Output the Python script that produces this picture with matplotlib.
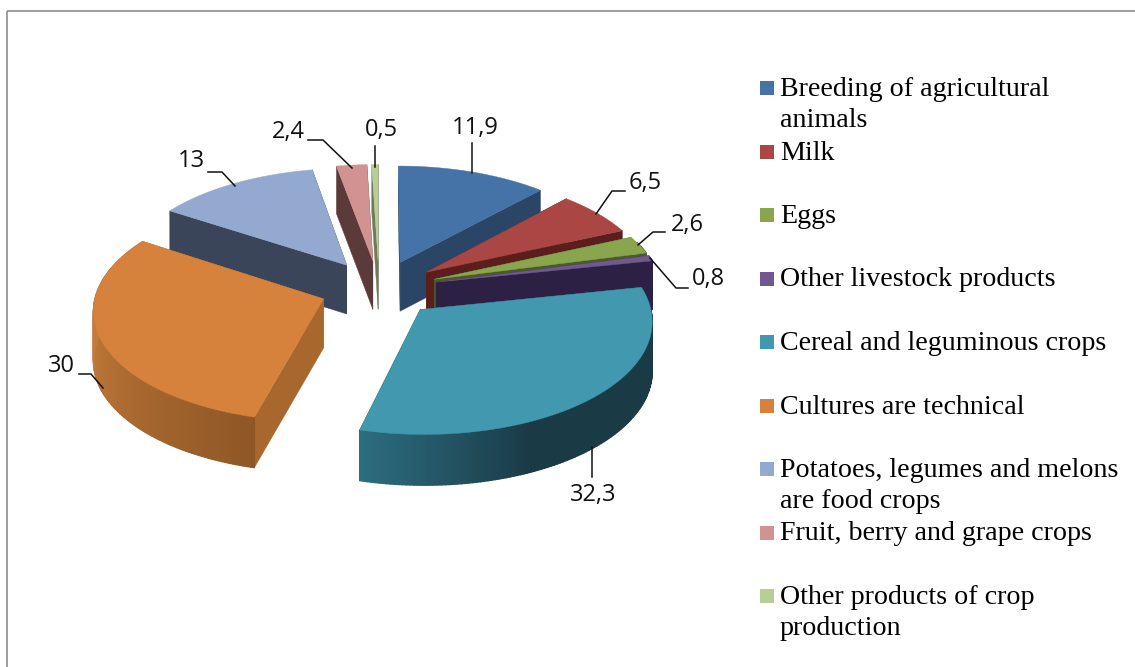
import numpy as np
import matplotlib
matplotlib.use("Agg")
import matplotlib.pyplot as plt
from matplotlib.patches import Polygon, Rectangle
from matplotlib.colors import to_rgb

labels = ["Breeding of agricultural\nanimals", "Milk", "Eggs", "Other livestock products",
          "Cereal and leguminous crops", "Cultures are technical",
          "Potatoes, legumes and melons\nare food crops", "Fruit, berry and grape crops",
          "Other products of crop\nproduction"]
values = [11.9, 6.5, 2.6, 0.8, 32.3, 30, 13, 2.4, 0.5]
value_labels = ["11,9", "6,5", "2,6", "0,8", "32,3", "30", "13", "2,4", "0,5"]
colors = ["#4572A7", "#AA4643", "#89A54E", "#71588F", "#4198AF", "#D6813C", "#93A9CF", "#D19392", "#B9CD96"]
wall_inner = ["#2A4565", "#5A1F1D", "#4A5A28", "#2C2145", "#1F4452", "#A8672C", "#3A455A", "#5C3A3A", "#6E7A58"]
wall_dark = ["#2A4565", "#5A1F1D", "#4A5A28", "#2C2145", "#1A3A46", "#A8672C", "#3A455A", "#5C3A3A", "#6E7A58"]

CX, CY, RX, RY, K, EXPLODE, DEPTH = 379, 288.5, 226.7, 109.6, 0.09, 0.26, 49

def project(x, y, z=0.0):
    s = 1 / (1 + K * y)
    return CX + RX * x * s, CY - RY * y * s + z * DEPTH * (1 + 0.3 * (s - 1))

fig = plt.figure(figsize=(11.35, 6.67), dpi=100)
ax = fig.add_axes([0, 0, 1, 1])
ax.set_xlim(0, 1135); ax.set_ylim(667, 0); ax.axis("off")
ax.add_patch(Rectangle((7, 10.5), 1140, 700, fill=False, ec="#8c8c8c", lw=1.2))

total = sum(values)
edges = np.concatenate([[0], np.cumsum(values)]) / total * 2 * np.pi
mids = (edges[:-1] + edges[1:]) / 2

def mix(c1, c2, t):
    a, b = np.array(to_rgb(c1)), np.array(to_rgb(c2))
    return tuple(a + (b - a) * float(np.clip(t, 0, 1)))

def wall_colour(i, m):
    deg = np.degrees(m)
    if i == 4:   # cereal: dark at the right, teal at the far left end
        return mix("#1A3A46", "#2C6E80", (deg - 155) / 40)
    if i == 5:   # technical crops: dark next to the front edge, lighter to the left
        return mix("#8F5726", "#C27B3A", (deg - 195) / 70)
    return wall_dark[i]

order = np.argsort(-np.cos(mids))
for i in order:
    a = np.linspace(edges[i], edges[i + 1], max(3, int(values[i] * 4) + 3))
    ox, oy = EXPLODE * np.sin(mids[i]), EXPLODE * np.cos(mids[i])
    z = 3 + (1 - np.cos(mids[i]))
    for ang in (edges[i], edges[i + 1]):
        p0 = project(ox, oy)
        p1 = project(ox + np.sin(ang), oy + np.cos(ang))
        p2 = project(ox + np.sin(ang), oy + np.cos(ang), 1)
        p3 = project(ox, oy, 1)
        ax.add_patch(Polygon([p0, p1, p2, p3], fc=wall_inner[i], ec=wall_inner[i], lw=0.3, zorder=z))
    for a0, a1 in zip(a[:-1], a[1:]):
        m = (a0 + a1) / 2
        if np.cos(m) > 0.35 and i != 5:
            continue
        c = wall_colour(i, m)
        q = [project(ox + np.sin(a0), oy + np.cos(a0)), project(ox + np.sin(a1), oy + np.cos(a1)),
             project(ox + np.sin(a1), oy + np.cos(a1), 1), project(ox + np.sin(a0), oy + np.cos(a0), 1)]
        ax.add_patch(Polygon(q, fc=c, ec=c, lw=1.0, zorder=z + 0.1))
    top = [project(ox, oy)] + [project(ox + np.sin(t), oy + np.cos(t)) for t in a]
    ax.add_patch(Polygon(top, fc=colors[i], ec=colors[i], lw=0.3, zorder=z + 0.2))

SANS = "Open Sans"
SERIF = "Liberation Serif"
label_pos = [(475, 128), (645, 183), (687, 225), (708, 279), (593, 495), (61, 366), (191, 161), (288, 132), (381, 130)]
leaders = [[(472, 143), (472, 173)], [(625, 191), (612, 191), (596, 214)], [(665, 232), (653, 232), (638, 245)],
           [(688, 288), (676, 288), (650, 258)], [(592, 477), (592, 447)], [(79, 374), (91, 374), (103, 388)],
           [(208, 172), (222, 172), (235, 186)], [(308, 140), (323, 140), (352, 168)], [(374.5, 146), (374.5, 167)]]
for t, (x, y), l in zip(value_labels, label_pos, leaders):
    ax.text(x, y, t, fontsize=17, family=SANS, ha="center", va="center", color="#111111", zorder=20)
    ax.plot(*zip(*l), color="#111111", lw=1.1, zorder=20)

for n, (lab, c) in enumerate(zip(labels, colors)):
    y = 88 + n * 63.5
    ax.add_patch(Rectangle((760, y - 7), 14, 14, fc=c, ec="none"))
    ax.text(780, y - 11, lab, fontsize=20.2, family=SERIF, ha="left", va="top", color="black",
            linespacing=1.34)

fig.savefig("out.png", dpi=100)
